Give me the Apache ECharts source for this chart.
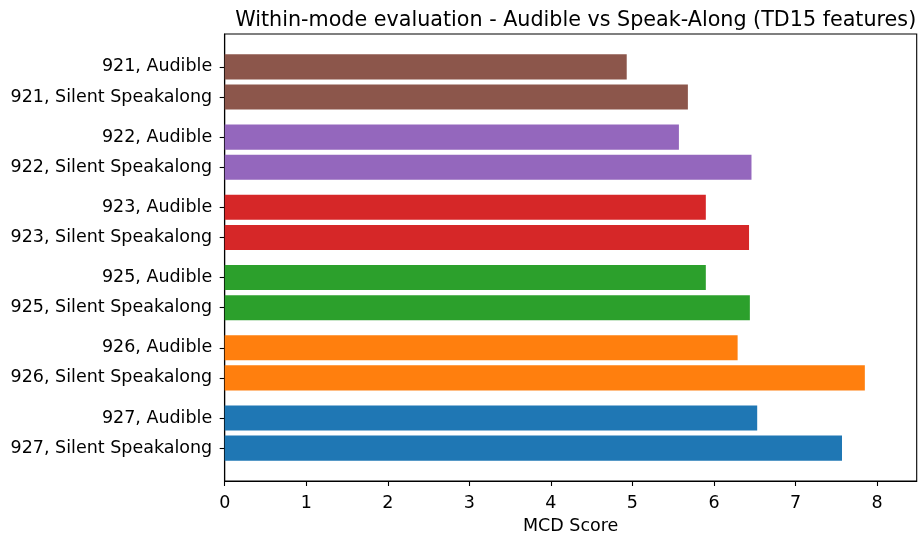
<!DOCTYPE html>
<html>
<head>
<meta charset="utf-8">
<script src="https://cdn.jsdelivr.net/npm/echarts@6/dist/echarts.min.js"></script>
<style>
  html, body { margin: 0; padding: 0; background: #ffffff; }
  #chart { width: 918px; height: 536px; }
</style>
</head>
<body>
<div id="chart"></div>
<script>
// Rows from top to bottom
const labels = [
  '921, Audible', '921, Silent Speakalong',
  '922, Audible', '922, Silent Speakalong',
  '923, Audible', '923, Silent Speakalong',
  '925, Audible', '925, Silent Speakalong',
  '926, Audible', '926, Silent Speakalong',
  '927, Audible', '927, Silent Speakalong'
];
// Vertical slot of each row (value-axis units, bottom = 0)
const positions = [38, 35, 31, 28, 24, 21, 17, 14, 10, 7, 3, 0];
// MCD score per row
const scores = [4.93, 5.68, 5.57, 6.46, 5.90, 6.43, 5.90, 6.44, 6.29, 7.85, 6.53, 7.57];
// One colour per speaker pair
const colors = [
  '#8c564b', '#8c564b',
  '#9467bd', '#9467bd',
  '#d62728', '#d62728',
  '#2ca02c', '#2ca02c',
  '#ff7f0e', '#ff7f0e',
  '#1f77b4', '#1f77b4'
];
const xTicks = [0, 1, 2, 3, 4, 5, 6, 7, 8];
const BAR_HALF = 1.25;

const chart = echarts.init(document.getElementById('chart'), null, { renderer: 'canvas' });
const font = 'DejaVu Sans';
const labelByPos = {};
positions.forEach((p, i) => { labelByPos[p] = labels[i]; });

chart.setOption({
  animation: false,
  backgroundColor: '#ffffff',
  title: {
    text: 'Within-mode evaluation - Audible vs Speak-Along (TD15 features)',
    left: 570.7,
    textAlign: 'center',
    top: 5,
    textStyle: { fontFamily: font, fontSize: 20.7, fontWeight: 'normal', color: '#000' }
  },
  grid: {
    left: 224.7, right: 1.3, top: 34, bottom: 55,
    outerBoundsMode: 'none',
    containLabel: false,
    show: true, borderColor: '#000', borderWidth: 1.1, backgroundColor: 'transparent'
  },
  xAxis: {
    type: 'value',
    min: 0, max: 8.486,
    name: 'MCD Score',
    nameLocation: 'middle',
    nameGap: 35,
    nameTextStyle: { fontFamily: font, fontSize: 17.5, color: '#000' },
    axisLine: { show: true, onZero: false, lineStyle: { color: '#000', width: 1.1 } },
    axisTick: { show: true, length: 5, lineStyle: { color: '#000', width: 1.1 }, customValues: xTicks },
    axisLabel: { fontFamily: font, fontSize: 17.5, color: '#000', margin: 13.5, customValues: xTicks },
    splitLine: { show: false }
  },
  yAxis: {
    type: 'value',
    min: -3.275, max: 41.275,
    axisLine: { show: true, onZero: false, lineStyle: { color: '#000', width: 1.1 } },
    axisTick: { show: true, length: 5, lineStyle: { color: '#000', width: 1.1 }, customValues: positions },
    axisLabel: {
      fontFamily: font, fontSize: 17.5, color: '#000', margin: 12.5,
      padding: [3, 0, 0, 0],
      customValues: positions,
      formatter: v => labelByPos[v] || ''
    },
    splitLine: { show: false }
  },
  series: [{
    type: 'custom',
    data: scores.map((s, i) => [s, positions[i], i]),
    encode: { x: 0, y: 1 },
    renderItem: (params, api) => {
      const v = api.value(0);
      const p = api.value(1);
      const idx = api.value(2);
      const a = api.coord([0, p + BAR_HALF]);
      const b = api.coord([v, p - BAR_HALF]);
      return {
        type: 'rect',
        shape: { x: a[0], y: a[1], width: b[0] - a[0], height: b[1] - a[1] },
        style: { fill: colors[idx] }
      };
    },
    z: 1
  }]
});
</script>
</body>
</html>
